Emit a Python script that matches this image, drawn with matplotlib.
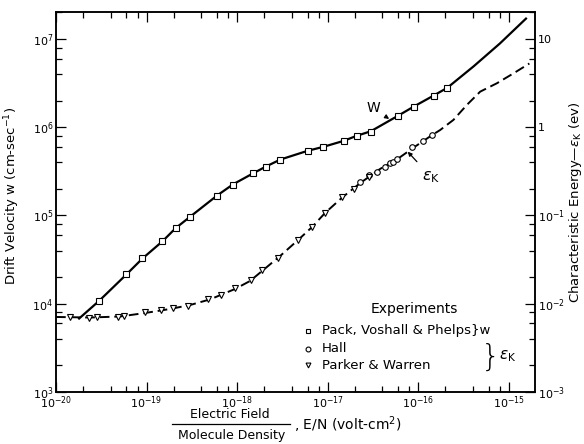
import numpy as np
import matplotlib
matplotlib.use('Agg')
import matplotlib.pyplot as plt
from matplotlib.lines import Line2D
from matplotlib.ticker import LogLocator, NullFormatter, FuncFormatter

# drift velocity w, theory curve (cm/sec) vs E/N (volt-cm^2)
w_line_x = [1.8e-20, 3e-20, 6e-20, 9e-20, 1.5e-19, 2.1e-19, 3e-19, 6e-19, 9e-19, 1.5e-18, 2.1e-18, 3e-18,
	6e-18, 9e-18, 1.5e-17, 2.1e-17, 3e-17, 6e-17, 9e-17, 1.5e-16, 2.1e-16, 4.1e-16, 8e-16, 1.55e-15]
w_line_y = [6.8e3, 1.08e4, 2.15e4, 3.25e4, 5.1e4, 7.2e4, 9.6e4, 1.68e5, 2.25e5, 3.0e5, 3.6e5, 4.3e5,
	5.4e5, 6.0e5, 7.0e5, 8.0e5, 9.0e5, 1.35e6, 1.72e6, 2.3e6, 2.8e6, 4.9e6, 8.9e6, 1.7e7]

# Pack, Voshall & Phelps (w)
pvp_x = [3e-20, 6e-20, 9e-20, 1.5e-19, 2.1e-19, 3e-19, 6e-19, 9e-19, 1.5e-18, 2.1e-18, 3e-18,
	6e-18, 9e-18, 1.5e-17, 2.1e-17, 3e-17, 6e-17, 9e-17, 1.5e-16, 2.1e-16]
pvp_y = [1.08e4, 2.17e4, 3.32e4, 5.18e4, 7.2e4, 9.5e4, 1.68e5, 2.23e5, 3.0e5, 3.57e5, 4.25e5,
	5.38e5, 5.93e5, 7.04e5, 8.02e5, 8.9e5, 1.35e6, 1.71e6, 2.28e6, 2.76e6]

# characteristic energy eps_K, theory curve (ev)
ek_line_x = [1e-20, 2.38e-20, 5.1e-20, 9.6e-20, 1.82e-19, 3.03e-19, 5.03e-19, 9.5e-19, 1.39e-18, 2.04e-18,
	2.99e-18, 4.72e-18, 6.74e-18, 9.38e-18, 1.45e-17, 2.29e-17, 3.8e-17, 6.01e-17, 9.27e-17, 1.43e-16,
	1.75e-16, 2.45e-16, 3.45e-16, 4.84e-16, 7.41e-16, 1.13e-15, 1.69e-15]
ek_line_y = [7.08e-3, 6.98e-3, 7.17e-3, 7.85e-3, 8.72e-3, 9.68e-3, 1.12e-2, 1.47e-2, 1.81e-2, 2.51e-2,
	3.48e-2, 5.28e-2, 7.41e-2, 0.107, 0.160, 0.233, 0.337, 0.442, 0.605, 0.817,
	0.93, 1.21, 1.79, 2.53, 3.15, 4.08, 5.27]

# Hall (eps_K)
hall_x = [2.29e-17, 2.88e-17, 3.5e-17, 4.25e-17, 4.91e-17, 5.33e-17, 5.9e-17, 8.59e-17, 1.14e-16, 1.41e-16]
hall_y = [0.238, 0.284, 0.314, 0.357, 0.391, 0.407, 0.433, 0.59, 0.698, 0.817]

# Parker & Warren (eps_K)
pw_x = [1.43e-20, 2.32e-20, 2.84e-20, 4.78e-20, 5.64e-20, 9.5e-20, 1.45e-19, 1.94e-19, 2.87e-19, 4.78e-19,
	6.65e-19, 9.5e-19, 1.43e-18, 1.89e-18, 2.84e-18, 4.72e-18, 6.69e-18, 9.38e-18, 1.44e-17, 1.94e-17, 2.88e-17]
pw_y = [7.08e-3, 6.81e-3, 7.08e-3, 7.13e-3, 7.32e-3, 7.96e-3, 8.43e-3, 8.84e-3, 9.55e-3, 1.12e-2,
	1.26e-2, 1.49e-2, 1.86e-2, 2.44e-2, 3.27e-2, 5.28e-2, 7.35e-2, 0.108, 0.160, 0.200, 0.273]

x_lim = (1e-20, 1.95e-15)
w_lim = (1e3, 2.02e7)
ek_lim = (1e-3, 2.02e1)

FS = 9


def right_fmt(v, pos):
	if v >= 1:
		return '%d' % round(v)
	return r'$10^{%d}$' % round(np.log10(v))


def log_ticks(axis):
	axis.set_major_locator(LogLocator(base=10, numticks=20))
	axis.set_minor_locator(LogLocator(base=10, subs=(2, 4, 6, 8), numticks=20))
	axis.set_minor_formatter(NullFormatter())


fig = plt.figure(figsize=(5.84, 4.44), dpi=100)
ax = fig.add_axes([56 / 584, 52 / 444, 479 / 584, 380 / 444])
ax.set_xscale('log')
ax.set_yscale('log')
ax.set_xlim(*x_lim)
ax.set_ylim(*w_lim)

ax2 = ax.twinx()
ax2.set_yscale('log')
ax2.set_ylim(*ek_lim)

log_ticks(ax.xaxis)
log_ticks(ax.yaxis)
log_ticks(ax2.yaxis)
ax2.yaxis.set_major_formatter(FuncFormatter(right_fmt))

for a in (ax, ax2):
	a.tick_params(which='both', direction='in', width=0.9, labelsize=8)
	a.tick_params(which='major', length=7)
	a.tick_params(which='minor', length=4)
	for s in a.spines.values():
		s.set_linewidth(1.1)
ax.tick_params(which='both', top=True, right=False)
ax.tick_params(axis='x', pad=2)
ax.tick_params(axis='y', pad=2)
ax2.tick_params(axis='y', pad=2)

# curves
ax.plot(w_line_x, w_line_y, color='k', lw=1.6, zorder=2)
ax2.plot(ek_line_x, ek_line_y, color='k', lw=1.4, ls=(0, (5, 2.5)), zorder=2)

# experiments
mk = dict(ls='none', mfc='white', mec='k', mew=0.8, zorder=3)
ax.plot(pvp_x, pvp_y, marker='s', ms=4, **mk)
ax2.plot(hall_x, hall_y, marker='o', ms=4, **mk)
ax2.plot(pw_x, pw_y, marker='v', ms=4.5, **mk)

# curve labels
ax.annotate('W', xy=(4.78e-17, 1.24e6), xytext=(3.18e-17, 1.65e6), fontsize=FS + 1,
	ha='center', va='center', arrowprops=dict(arrowstyle='-|>', color='k', lw=0.9, mutation_scale=6, shrinkA=4, shrinkB=0))
ax2.annotate(r'$\epsilon_{\mathrm{K}}$', xy=(7.66e-17, 0.528), xytext=(1.4e-16, 0.27), fontsize=FS + 2.5,
	ha='center', va='center', arrowprops=dict(arrowstyle='-|>', color='k', lw=0.9, mutation_scale=6, shrinkA=5, shrinkB=0))

# legend box
ax.text(0.749, 0.218, 'Experiments', transform=ax.transAxes, ha='center', va='center', fontsize=FS + 1)
leg_y = [0.161, 0.114, 0.070]
leg_m = ['s', 'o', 'v']
leg_t = ['Pack, Voshall & Phelps}w', 'Hall', 'Parker & Warren']
for y, m, t in zip(leg_y, leg_m, leg_t):
	ax.plot([0.526], [y], transform=ax.transAxes, marker=m, ms=3.5, ls='none', mfc='white', mec='k', mew=0.8)
	ax.text(0.555, y, t, transform=ax.transAxes, ha='left', va='center', fontsize=FS + 0.5)
ax.text(0.907, 0.092, '}', transform=ax.transAxes, ha='center', va='center', fontsize=22, fontweight='light')
ax.text(0.925, 0.095, r'$\epsilon_{\mathrm{K}}$', transform=ax.transAxes, ha='left', va='center', fontsize=FS + 2)

# axis labels
ax.set_ylabel(r'Drift Velocity w (cm-sec$^{-1}$)', fontsize=FS + 0.5)
ax.yaxis.set_label_coords(-0.071, 0.516)
ax2.set_ylabel(r'Characteristic Energy—$\epsilon_{\mathrm{K}}$ (ev)', fontsize=FS + 0.5, rotation=90)
ax2.yaxis.set_label_coords(1.066, 0.5)

# x label: E field over molecule density, written as a fraction
fig.text(0.394, 0.067, 'Electric Field', ha='center', va='center', fontsize=FS)
fig.text(0.396, 0.019, 'Molecule Density', ha='center', va='center', fontsize=FS)
fig.add_artist(Line2D([0.295, 0.497], [0.044, 0.044], transform=fig.transFigure, color='k', lw=0.9))
fig.text(0.503, 0.044, ', E/N (volt-cm$^2$)', ha='left', va='center', fontsize=FS + 1)

fig.savefig('out.png', dpi=100)
